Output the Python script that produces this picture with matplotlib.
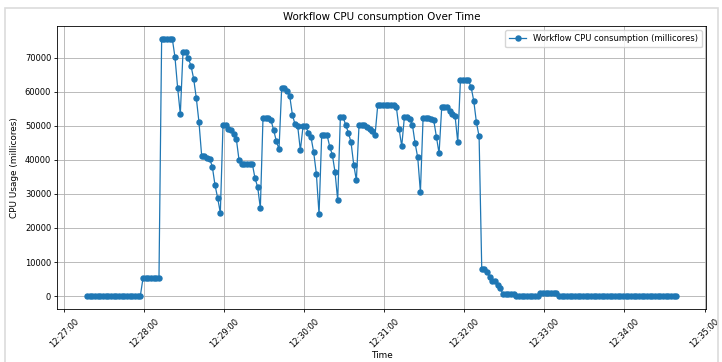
import pandas as pd

import matplotlib
matplotlib.use( "Agg" )
import matplotlib.pyplot as plt
import matplotlib.dates as mdates
from matplotlib.patches import Rectangle


# sampling start and step of the metrics scrape
start_time = "2024-01-01 12:27:17"

sample_step = "2s"

series_label = "Workflow CPU consumption (millicores)"

# cpu usage per sample, millicores
cpu_usage = [
    0, 0, 0, 0, 0, 0, 0, 0, 0, 0, 0, 0, 0, 0, 0, 0, 0, 0, 0, 0, 0,
    5200, 5200, 5200, 5200, 5200, 5200, 5200,
    75500, 75500, 75500, 75500, 75500,
    70100, 61100, 53400, 71600, 71600, 69800, 67600, 63800, 58100, 51000,
    41200, 41200, 40400, 40300, 38000, 32600, 28800, 24400,
    50100, 50100, 49100, 48800, 47700, 46100, 40000, 38800, 38800, 38800,
    38800, 38800, 34600, 32000, 25800,
    52400, 52400, 52400, 51600, 48700, 45500, 43100, 61200, 61200, 60300,
    58800, 53300, 50400, 49900, 42800, 49800, 49800, 48000,
    46600, 42200, 35900, 24000, 47300, 47300, 47300, 43900, 41400, 36400,
    28100, 52600, 52600, 50200, 48000, 45100, 38600, 34000, 50300, 50300,
    50300, 49600, 49100, 48500, 47300,
    56000, 56000, 56000, 56000, 56000, 56000, 56000,
    55400, 49100, 44000, 52600, 52600, 52000, 50300, 44900, 40700, 30500,
    52200, 52200, 52200, 52000, 51600, 46700, 41900, 55600, 55600, 55600,
    54300, 53400, 52800, 45200, 63300, 63300, 63300, 63300, 61400, 57300,
    51000, 46900,
    7900, 7900, 7000, 5700, 4300, 4300, 3200, 2300,
    500, 500, 500, 500, 500,
    0, 0, 0, 0, 0, 0, 0, 0, 0,
    1000, 1000, 1000, 1000, 1000, 1000, 1000,
    0, 0, 0, 0, 0, 0, 0, 0, 0, 0, 0, 0, 0, 0, 0, 0, 0, 0, 0, 0, 0, 0, 0,
    0, 0, 0, 0, 0, 0, 0, 0, 0, 0, 0, 0, 0, 0, 0, 0, 0, 0, 0, 0, 0, 0,
]


def build_frame():

    times = pd.date_range( start=start_time, periods=len( cpu_usage ), freq=sample_step )

    return pd.DataFrame( { "Time": times, "CPU": cpu_usage } )


def plot_usage( data ):

    fig = plt.figure( figsize=(7.22, 3.62), dpi=100 )

    # light card edge round the figure
    fig.patches.append( Rectangle( (0.007, -0.05), 0.987, 1.027, transform=fig.transFigure,
                                   fill=False, edgecolor="#dcdcdc", linewidth=1.2 ) )

    ax = fig.add_axes( [0.0796, 0.1464, 0.8982, 0.7818] )

    ax.plot( data["Time"], data["CPU"], marker="o", markersize=3.6,
             linewidth=0.9, color="#1f77b4", label=series_label )

    ax.set_title( "Workflow CPU consumption Over Time", fontsize=7.4, pad=4 )

    ax.set_xlabel( "Time", fontsize=6.4, labelpad=1 )

    ax.set_ylabel( "CPU Usage (millicores)", fontsize=6.4, labelpad=4 )

    ax.xaxis.set_major_locator( mdates.MinuteLocator() )

    ax.xaxis.set_major_formatter( mdates.DateFormatter( "%H:%M:%S" ) )

    ax.tick_params( labelsize=6, width=0.6, length=2.5, pad=2 )

    ax.tick_params( axis="x", pad=3 )

    plt.setp( ax.get_xticklabels(), rotation=45 )

    for spine in ax.spines.values():
        spine.set_linewidth( 0.6 )

    ax.grid( True, linewidth=0.6, color="#b0b0b0" )

    ax.legend( loc="upper right", fontsize=6, framealpha=0.8,
               borderpad=0.5, handlelength=2.0 )

    fig.savefig( "out.png", dpi=100 )


def main():

    data = build_frame()

    plot_usage( data )


if __name__ == "__main__":
    main()
